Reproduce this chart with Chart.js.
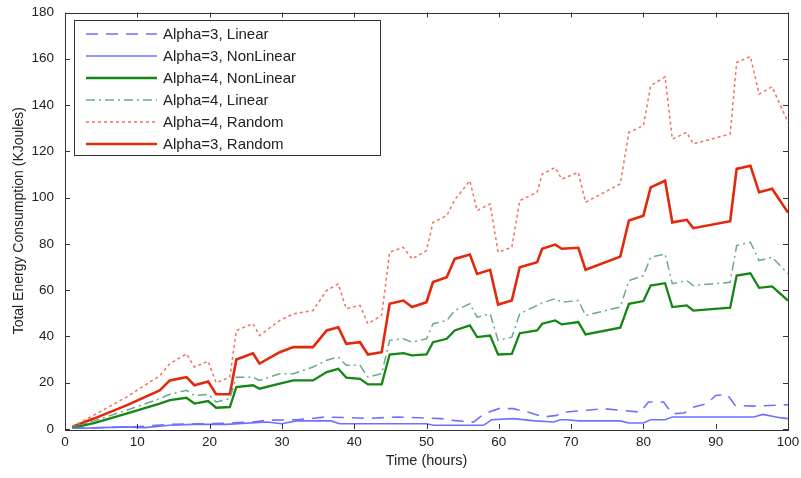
<!DOCTYPE html>
<html>
<head>
<meta charset="utf-8">
<script src="https://cdn.jsdelivr.net/npm/chart.js@4.4.1/dist/chart.umd.min.js"></script>
<style>
  body { margin: 0; background: #fff; }
  #wrap { width: 801px; height: 478px; }
</style>
</head>
<body>
<div id="wrap"><canvas id="energy" width="801" height="478"></canvas></div>
<script>
const ctx = document.getElementById("energy").getContext("2d");

// shared vertex hours for the four upper curves
const hours = [1, 4, 8.5, 13.1, 14.5, 16.8, 17.9, 19.8, 20.9, 22.8, 23.7, 26, 26.9, 29.7, 31.6, 34.3, 36.2, 37.8, 38.9, 40.8, 41.9, 43.8, 44.9, 46.8, 48, 50, 50.9, 52.8, 53.9, 56, 57, 58.8, 59.9, 61.8, 62.9, 65.3, 66, 67.8, 68.7, 71, 72, 76.8, 78, 80, 81, 83, 84, 86, 86.9, 92, 92.9, 94.8, 96, 97.8, 100];

const a3Random = [1, 4.5, 10.2, 16.7, 21, 22.4, 18.9, 20.5, 15, 15, 30, 32.7, 28.3, 33.2, 35.4, 35.4, 42.6, 44, 36.8, 37.5, 32.2, 33.2, 54.1, 55.5, 52.7, 54.8, 63.5, 65.6, 73.5, 75.4, 67, 68.8, 53.8, 55.5, 69.9, 72.1, 77.9, 79.7, 77.9, 78.3, 68.8, 74.5, 90.1, 92.2, 104.4, 107.3, 89.3, 90.4, 86.8, 89.8, 112.4, 113.8, 102.3, 103.8, 93.5];
const a4Random = [1, 6, 13.8, 23, 28.2, 32.5, 26.8, 29.3, 20, 22.4, 42.6, 45.5, 40.4, 46.9, 49.8, 51.2, 59.9, 62.7, 52, 53.4, 45.5, 49.1, 76.4, 78.5, 73.5, 77.1, 89.3, 92.2, 99, 107.3, 94.4, 97.3, 76.4, 78.5, 98.7, 102.3, 110.2, 113, 108, 110.9, 98, 105.9, 128.2, 131.1, 148.3, 152.2, 125.3, 128.2, 123.2, 127.5, 158.4, 161, 144.7, 147.9, 132.5];
const a4NonLinear = [0.5, 2.5, 6.6, 11, 12.5, 13.5, 11, 12.1, 9.2, 9.5, 18.1, 18.9, 17.4, 19.6, 21, 21, 24.6, 26, 22.2, 21.7, 19.3, 19.3, 32.2, 32.8, 31.8, 32.2, 37.5, 39, 42.6, 44.8, 39.7, 40.4, 32.2, 32.5, 41.4, 42.6, 45.5, 46.9, 45.2, 46.2, 40.9, 43.8, 54.1, 55.3, 62, 63, 52.7, 53.4, 51.2, 52.4, 66.3, 67.3, 61, 61.6, 55.5];
const a4Linear = [0.8, 3.5, 8.1, 13.1, 15, 16.7, 14.5, 15, 11.7, 13.1, 22.4, 22.4, 21, 23.9, 23.9, 26.8, 29.7, 31.1, 27.5, 27.5, 22.4, 23.9, 38.3, 39, 37.5, 39, 45.5, 46.9, 51.2, 54.1, 48.3, 49.8, 38.3, 39.7, 49.8, 53.4, 54.5, 56.3, 54.8, 55.5, 49.1, 52.7, 64.1, 66.3, 74.2, 75.7, 62.8, 64.1, 62, 63.4, 79.3, 80.7, 72.8, 74.2, 67.1];

// low curves have their own vertices
const a3LinearHours = [1, 8, 11, 14.5, 18, 22, 26, 28, 32, 34, 36, 42, 46, 52, 54, 56.5, 58, 60, 62, 64, 66.2, 68, 69, 72.2, 74.5, 76.8, 79.6, 80.7, 82.8, 84, 85.6, 87, 88.8, 90, 91.6, 92.7, 95.3, 100];
const a3Linear = [0.3, 0.8, 1.2, 2, 2.2, 2.5, 3, 3.8, 4, 4.5, 5.2, 4.6, 5.2, 4.5, 3.6, 3, 6.6, 8.8, 8.8, 7.3, 5.2, 5.9, 7.3, 8.1, 8.8, 8.1, 7.3, 11.7, 11.7, 6.6, 6.9, 9.5, 11, 14.5, 14.9, 10.2, 9.9, 10.5];
const a3NonLinearHours = [1, 8.5, 11, 14.5, 17.7, 22.3, 27.9, 30, 32, 36.8, 38, 50, 51, 57.9, 59, 62, 65, 67.6, 68.5, 69.5, 71, 76.8, 78, 80, 81, 83, 84, 95.3, 96.5, 98.9, 100];
const a3NonLinear = [0.2, 0.9, 0.6, 1.6, 2, 2, 3, 2.3, 3.5, 3.5, 2.3, 2.3, 1.6, 1.6, 4, 4.5, 3.5, 3, 4, 4, 3.5, 3.5, 2.6, 2.6, 4, 4, 5.2, 5.2, 6.3, 4.9, 4.5];

const xTicks = [0, 10, 20, 30, 40, 50, 60, 70, 80, 90, 100];
const yTicks = [0, 20, 40, 60, 80, 100, 120, 140, 160, 180];

const pts = (xs, ys) => xs.map((x, i) => ({ x: x, y: ys[i] }));
const font = '"Liberation Sans", Arial, sans-serif';

const data = {
    datasets: [
        {
            label: "Alpha=3, Linear",
            data: pts(a3LinearHours, a3Linear),
            borderColor: 'rgb(112, 112, 255)',
            borderWidth: 1.6,
            borderDash: [12, 8],
        },
        {
            label: "Alpha=3, NonLinear",
            data: pts(a3NonLinearHours, a3NonLinear),
            borderColor: 'rgb(112, 112, 255)',
            borderWidth: 1.6,
        },
        {
            label: "Alpha=4, NonLinear",
            data: pts(hours, a4NonLinear),
            borderColor: 'rgb(20, 135, 20)',
            borderWidth: 2.3,
        },
        {
            label: "Alpha=4, Linear",
            data: pts(hours, a4Linear),
            borderColor: 'rgb(105, 170, 140)',
            borderWidth: 1.5,
            borderDash: [9, 4, 2, 4],
        },
        {
            label: "Alpha=4, Random",
            data: pts(hours, a4Random),
            borderColor: 'rgb(240, 115, 95)',
            borderWidth: 1.5,
            borderDash: [3, 3],
        },
        {
            label: "Alpha=3, Random",
            data: pts(hours, a3Random),
            borderColor: 'rgb(228, 40, 12)',
            borderWidth: 2.6,
        },
    ],
};

// MATLAB style box with inward ticks, plus the boxed legend
const frame = {
    id: 'frame',
    afterDatasetsDraw(chart) {
        const c = chart.ctx;
        const a = chart.chartArea;
        const xs = chart.scales.x, ys = chart.scales.y;
        c.save();
        c.strokeStyle = '#333';
        c.lineWidth = 1;
        c.setLineDash([]);
        c.strokeRect(Math.round(a.left) + 0.5, Math.round(a.top) + 0.5, Math.round(a.right - a.left), Math.round(a.bottom - a.top));
        c.beginPath();
        xTicks.forEach(v => {
            const px = Math.round(xs.getPixelForValue(v)) + 0.5;
            c.moveTo(px, a.bottom); c.lineTo(px, a.bottom - 5);
            c.moveTo(px, a.top); c.lineTo(px, a.top + 5);
        });
        yTicks.forEach(v => {
            const py = Math.round(ys.getPixelForValue(v)) + 0.5;
            c.moveTo(a.left, py); c.lineTo(a.left + 5, py);
            c.moveTo(a.right, py); c.lineTo(a.right - 5, py);
        });
        c.stroke();

        // legend
        c.fillStyle = '#fff';
        c.fillRect(74, 20, 306, 135);
        c.strokeStyle = '#333';
        c.strokeRect(74.5, 20.5, 306, 135);
        c.font = '15px ' + font;
        c.textBaseline = 'middle';
        chart.data.datasets.forEach((ds, i) => {
            const y = 34 + i * 22;
            c.strokeStyle = ds.borderColor;
            c.lineWidth = ds.borderWidth;
            c.setLineDash(ds.borderDash || []);
            c.beginPath();
            c.moveTo(86, y); c.lineTo(157, y);
            c.stroke();
            c.fillStyle = '#222';
            c.fillText(ds.label, 163, y + 1);
        });
        c.restore();
    },
};

const config = {
    type: 'line',
    data: data,
    options: {
        responsive: false,
        animation: false,
        layout: { padding: { top: 12.5, right: 13, left: 0, bottom: 0 } },
        elements: { point: { radius: 0 }, line: { tension: 0 } },
        plugins: {
            legend: { display: false },
            tooltip: { enabled: false },
        },
        scales: {
            x: {
                type: 'linear',
                min: 0,
                max: 100,
                afterFit: s => { s.height = 49; s.paddingLeft = 0; s.paddingRight = 0; },
                afterBuildTicks: s => { s.ticks = xTicks.map(v => ({ value: v })); },
                grid: { display: false, drawTicks: false },
                border: { display: false },
                ticks: { color: '#222', padding: 5, maxRotation: 0, font: { family: font, size: 13.5 } },
                title: { display: true, text: 'Time (hours)', color: '#222', padding: { top: 0, bottom: 8 }, font: { family: font, size: 14.5 } },
            },
            y: {
                min: 0,
                max: 180,
                afterFit: s => { s.width = 65; s.paddingTop = 0; s.paddingBottom = 0; },
                afterBuildTicks: s => { s.ticks = yTicks.map(v => ({ value: v })); },
                grid: { display: false, drawTicks: false },
                border: { display: false },
                ticks: { color: '#222', padding: 11, font: { family: font, size: 13.5 } },
                title: { display: true, text: 'Total Energy Consumption (KJoules)', color: '#222', padding: { top: 11, bottom: 0 }, font: { family: font, size: 14 } },
            },
        },
    },
    plugins: [frame],
};

const energyChart = new Chart(ctx, config);
</script>
</body>
</html>
